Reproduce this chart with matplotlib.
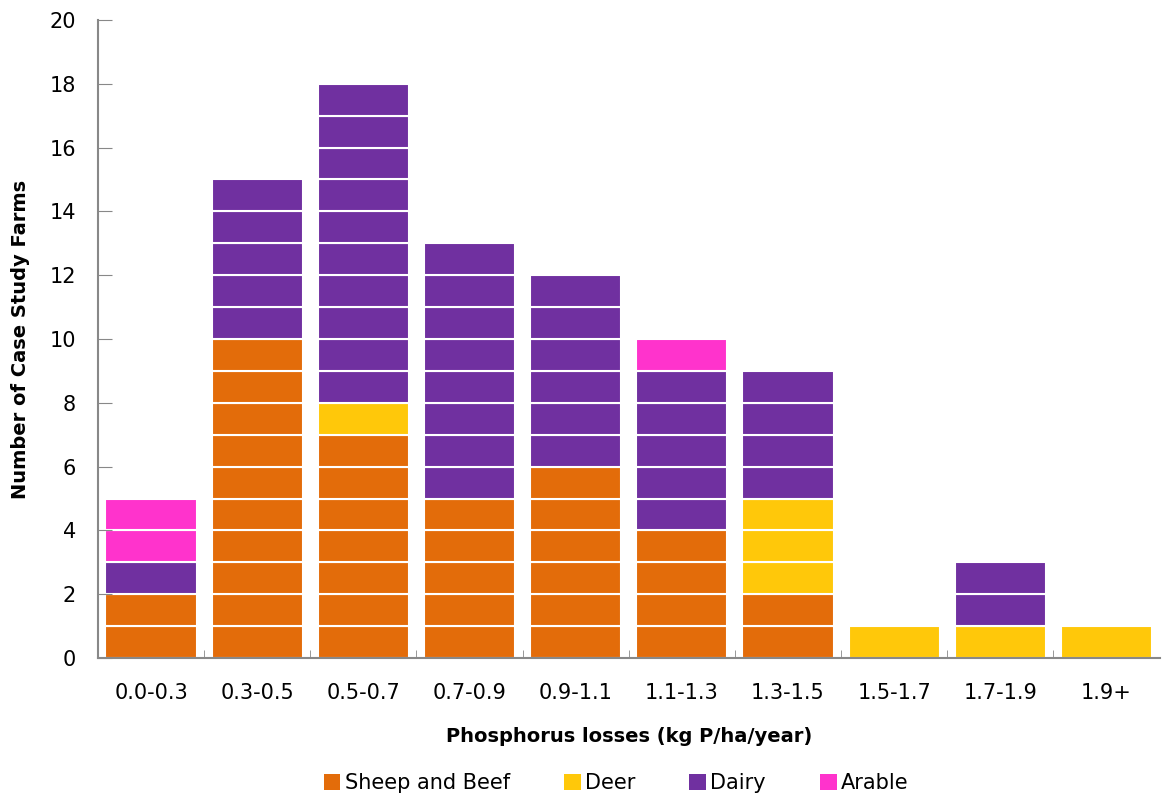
import matplotlib
matplotlib.use("Agg")
import matplotlib.pyplot as plt
import numpy as np

# farms per loss band, by farm type
bands = ["0.0-0.3", "0.3-0.5", "0.5-0.7", "0.7-0.9", "0.9-1.1",
         "1.1-1.3", "1.3-1.5", "1.5-1.7", "1.7-1.9", "1.9+"]
sheep_beef = [2, 10, 7, 5, 6, 4, 2, 0, 0, 0]
deer = [0, 0, 1, 0, 0, 0, 3, 1, 1, 1]
dairy = [1, 5, 10, 8, 6, 5, 4, 0, 2, 0]
arable = [2, 0, 0, 0, 0, 1, 0, 0, 0, 0]

series = [("Sheep and Beef", sheep_beef, "#E36C0A"),
          ("Deer", deer, "#FFC80A"),
          ("Dairy", dairy, "#7030A0"),
          ("Arable", arable, "#FF33CC")]

fig = plt.figure(figsize=(11.63, 7.98), dpi=100)
ax = fig.add_axes([0.0843, 0.1754, 0.9127, 0.7996])

x = np.arange(len(bands))
bottom = np.zeros(len(bands))
for name, vals, col in series:
    # one block per farm so each farm shows as its own cell
    for i, v in enumerate(vals):
        for k in range(v):
            ax.bar(x[i], 1, bottom=bottom[i] + k, width=0.86, color=col,
                   edgecolor="white", linewidth=1.5)
    bottom += np.array(vals)
    ax.bar([0], [0], color=col, label=name)

ax.set_xlim(-0.5, len(bands) - 0.5)
ax.set_ylim(0, 20)
ax.set_yticks(range(0, 21, 2))
ax.set_xticks(x)
ax.set_xticklabels(bands, fontsize=15)
ax.tick_params(axis="x", length=0, pad=18)
ax.set_xticks(np.arange(0.5, len(bands) - 0.5), minor=True)
ax.tick_params(axis="x", which="minor", direction="in", length=6, color="#888888")
ax.tick_params(axis="y", direction="in", length=10, color="#888888", labelsize=15, pad=16)

for s in ["top", "right"]:
    ax.spines[s].set_visible(False)
for s in ["left", "bottom"]:
    ax.spines[s].set_color("#888888")
    ax.spines[s].set_linewidth(1.5)

ax.set_xlabel("Phosphorus losses (kg P/ha/year)", fontsize=14, fontweight="bold", labelpad=17)
ax.set_ylabel("Number of Case Study Farms", fontsize=14, fontweight="bold", labelpad=14)

ax.legend(loc="center", bbox_to_anchor=(0.488, -0.196), ncol=4, frameon=False,
          fontsize=15, handlelength=0.8, handleheight=0.8, handletextpad=0.2,
          columnspacing=2.6)

fig.savefig("out.png", dpi=100)
